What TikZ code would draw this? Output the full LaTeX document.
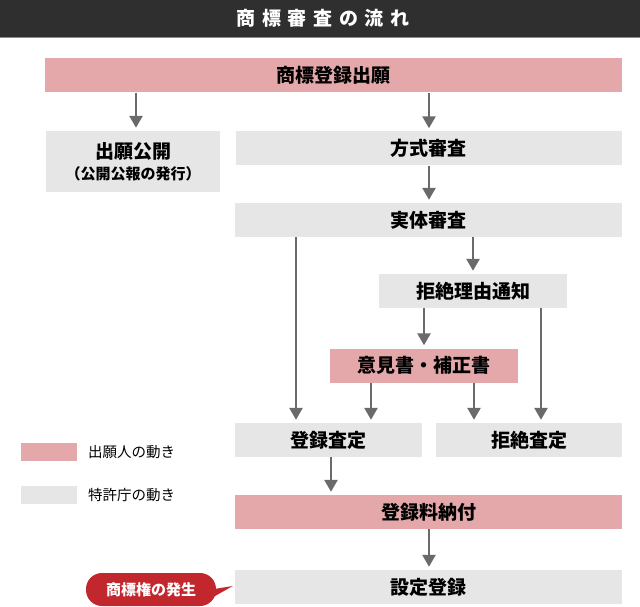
\documentclass[tikz,border=0pt]{standalone}
\usepackage{fontspec}
\setmainfont{Noto Sans CJK JP}
\usepackage{tikz}
\usetikzlibrary{arrows.meta,calc}
\definecolor{applicantpink}{HTML}{E4A8AA}
\definecolor{officegray}{HTML}{E6E6E6}
\definecolor{arrowgray}{HTML}{6A6A6A}
\definecolor{titlebar}{HTML}{2F2F2F}
\definecolor{calloutred}{HTML}{C1272D}
\begin{document}
\begin{tikzpicture}[x=1pt,y=-1pt,
                box/.style={minimum height=34pt,inner sep=0pt,
                        font=\bfseries\fontsize{19}{20}\selectfont},
                applicant/.style={box,fill=applicantpink},
                office/.style={box,fill=officegray},
                flow/.style={draw=arrowgray,line width=2.6pt,shorten >=3pt,
                        -{Triangle[width=13pt,length=12pt]}},
                key/.style={minimum width=56pt,minimum height=18pt,inner sep=0pt},
                keytext/.style={anchor=west,inner sep=0pt,font=\fontsize{14.5}{16}\selectfont}]
                \useasboundingbox (0,0) rectangle (640,607);
                \fill[titlebar] (0,0) rectangle (640,37);
                \draw[black!45,line width=1pt] (0,37.5) -- (640,37.5);
                \node[text=white,font=\bfseries\fontsize{19}{20}\selectfont] (title) at (323,18)
                        {\addfontfeature{LetterSpace=35}商標審査の流れ};
                \node[applicant,minimum width=577pt] (app) at (333.5,75.5) {商標登録出願};
                \node[office,minimum width=174pt,minimum height=61pt,align=center] (pub) at (133,161.5)
                        {出願公開\\[1pt]{\fontsize{15}{16}\selectfont（公開公報の発行）}};
                \node[office,minimum width=386pt] (form) at (428.5,148.5) {方式審査};
                \node[office,minimum width=387pt] (subst) at (428.5,220) {実体審査};
                \node[office,minimum width=188pt] (notice) at (473,291) {拒絶理由通知};
                \node[applicant,minimum width=188pt] (opinion) at (424,365.5) {意見書・補正書};
                \node[office,minimum width=187pt] (regdec) at (328.5,440) {登録査定};
                \node[office,minimum width=186pt] (rejdec) at (529,440) {拒絶査定};
                \node[applicant,minimum width=387pt] (fee) at (428.5,512) {登録料納付};
                \node[office,minimum width=387pt] (setreg) at (428.5,587) {設定登録};
                \draw[flow] (app.south -| 136,0) -- (pub.north -| 136,0);
                \draw[flow] (app.south -| 429,0) -- (form.north -| 429,0);
                \draw[flow] (form.south -| 429,0) -- (subst.north -| 429,0);
                \draw[flow] (subst.south -| 296,0) -- (regdec.north -| 296,0);
                \draw[flow] (subst.south -| 473,0) -- (notice.north -| 473,0);
                \draw[flow] (notice.south -| 424,0) -- (opinion.north -| 424,0);
                \draw[flow] (notice.south -| 541,0) -- (rejdec.north -| 541,0);
                \draw[flow] (opinion.south -| 371,0) -- (regdec.north -| 371,0);
                \draw[flow] (opinion.south -| 474,0) -- (rejdec.north -| 474,0);
                \draw[flow] (regdec.south -| 331,0) -- (fee.north -| 331,0);
                \draw[flow] (fee.south -| 429,0) -- (setreg.north -| 429,0);
                \node[key,fill=applicantpink] (pinkkey) at (49,452) {};
                \node[keytext] (pinklabel) at (88,452) {出願人の動き};
                \node[key,fill=officegray] (graykey) at (49,495) {};
                \node[keytext] (graylabel) at (88,495) {特許庁の動き};
                \fill[calloutred] ($(setreg.west)+(-2,-1)$) -- (208,590) -- (208,600) -- cycle;
                \node[fill=calloutred,rounded corners=16pt,minimum width=130pt,minimum height=33pt,
                        inner sep=0pt,text=white,font=\bfseries\fontsize{15}{16}\selectfont] (birth) at (151,589.5)
                        {商標権の発生};
\end{tikzpicture}
\end{document}
